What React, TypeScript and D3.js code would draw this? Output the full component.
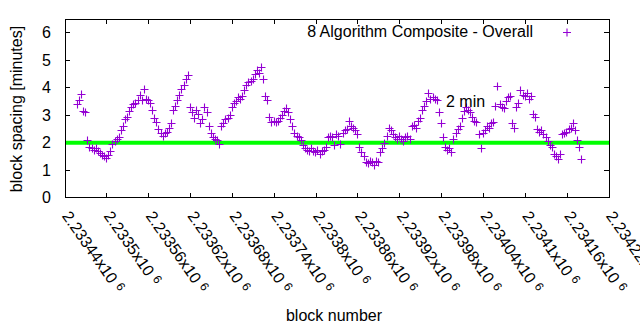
import React from "react";
import * as d3 from "d3";

// ---- data ----
const firstBlock = 2233457;
const blockStep = 3;
const spacing = [
  3.42, 3.55, 3.78, 3.15, 3.1, 2.08, 1.85, 1.8, 1.75, 1.8,
  1.7, 1.62, 1.55, 1.5, 1.45, 1.55, 1.7, 1.95, 2.05, 2.15,
  2.2, 2.45, 2.6, 2.85, 2.95, 3.15, 3.3, 3.4, 3.45, 3.55,
  3.75, 3.55, 3.95, 3.6, 3.55, 3.45, 3.2, 2.9, 2.75, 2.5,
  2.35, 2.25, 2.35, 2.4, 2.55, 2.7, 3.2, 3.35, 3.55, 3.75,
  3.95, 4.1, 4.3, 4.45, 3.3, 3.1, 2.9, 3.2, 3.05, 2.7,
  2.85, 3.3, 3.1, 2.6, 2.35, 2.2, 2.15, 2.1, 1.95, 2.6,
  2.7, 2.85, 2.9, 3.0, 3.3, 3.45, 3.5, 3.65, 3.6, 3.7,
  3.9, 4.1, 4.2, 4.25, 4.3, 4.5, 4.65, 4.55, 4.75, 4.3,
  3.7, 3.55, 2.95, 2.75, 2.8, 2.75, 2.8, 2.9, 3.0, 3.15,
  3.25, 3.1, 2.85, 2.6, 2.35, 2.25, 2.2, 2.1, 1.9, 1.8,
  1.75, 1.7, 1.8, 1.7, 1.65, 1.75, 1.6, 1.7, 1.75, 1.85,
  2.2, 2.25, 2.2, 1.9, 2.3, 2.25, 1.95, 2.35, 2.45, 2.5,
  2.8, 2.6, 2.55, 2.45, 2.3, 1.85, 1.65, 1.5, 1.3, 1.25,
  1.35, 1.3, 1.2, 1.35, 1.3, 1.65, 1.8, 2.0, 2.25, 2.55,
  2.45, 2.3, 2.2, 2.15, 2.25, 2.15, 2.05, 2.2, 2.25, 2.15,
  2.6, 2.65, 2.55, 2.8, 2.9, 3.2, 3.35, 3.5, 3.8, 3.6,
  3.65, 3.6, 3.55, 3.1, 2.7, 2.2, 1.85, 1.75, 1.8, 1.65,
  2.15, 2.35, 2.5, 2.6, 2.9, 3.15, 3.3, 3.2, 3.1, 2.95,
  2.8, 2.75, 2.3, 1.8, 2.35, 2.45, 2.6, 2.55, 2.7, 2.75,
  3.35, 4.05, 3.4, 3.3, 3.25, 3.5, 3.65, 3.7, 2.7, 2.55,
  3.3, 3.45, 3.9, 3.75, 3.7, 3.8, 3.6, 3.7, 3.05, 2.95,
  2.5, 2.4, 2.45, 2.3, 2.2, 2.05, 1.9, 1.85, 1.6, 1.5,
  1.4, 1.6, 2.3, 2.35, 2.4, 2.5, 2.55, 2.7, 2.45, 2.1,
  1.85, 1.4,
];
const blocks = spacing.map((_, i) => firstBlock + i * blockStep);

const xTickValues = [
  2233440, 2233500, 2233560, 2233620, 2233680, 2233740, 2233800,
  2233860, 2233920, 2233980, 2234040, 2234100, 2234160, 2234220,
];
const yTickValues = [0, 1, 2, 3, 4, 5, 6];
const targetMinutes = 2;

const seriesName = "8 Algorithm Composite - Overall";
const targetLabel = "2 min";
const xTitle = "block number";
const yTitle = "block spacing [minutes]";

// ---- layout ----
const W = 640;
const H = 330;
const L = 65;
const R = 609;
const T = 19;
const B = 197.6;
const FONT = "'Liberation Sans', Arial, sans-serif";
const PURPLE = "#9400d3";

export default function App() {
  const x = d3.scaleLinear().domain([2233440, 2234220]).range([L, R]);
  const y = d3.scaleLinear().domain([0, 6.5]).range([B, T]);
  const tk = 5;
  const ms = 4;

  const fmt = (v: number) => String(+(v / 1e6).toFixed(5));

  return (
    <svg
      width={W}
      height={H}
      style={{ position: "absolute", left: 0, top: 0, background: "#fff" }}
      fontFamily={FONT}
      fontSize={16}
    >
      <rect x={0} y={0} width={W} height={H} fill="#fff" />
      {/* ticks */}
      <g stroke="#000" strokeWidth={1} shapeRendering="crispEdges">
        {yTickValues.map((v) => (
          <g key={"yt" + v}>
            <line x1={L} x2={L + tk} y1={y(v)} y2={y(v)} />
            <line x1={R} x2={R - tk} y1={y(v)} y2={y(v)} />
          </g>
        ))}
        {xTickValues.map((v) => (
          <g key={"xt" + v}>
            <line x1={x(v)} x2={x(v)} y1={B} y2={B - tk} />
            <line x1={x(v)} x2={x(v)} y1={T} y2={T + tk} />
          </g>
        ))}
      </g>
      {/* y tick labels */}
      {yTickValues.map((v) => (
        <text
          key={"yl" + v}
          x={51}
          y={y(v)}
          dy="0.36em"
          textAnchor="end"
          fill="#000"
        >
          {v}
        </text>
      ))}
      {/* x tick labels */}
      {xTickValues.map((v) => {
        const px = x(v) - 3.5;
        const py = 216;
        return (
          <text
            key={"xl" + v}
            x={px}
            y={py}
            transform={`rotate(55 ${px} ${py})`}
            fill="#000"
          >
            {fmt(v) + "x10"}
            <tspan fontSize={12} dx={5} dy={-4}>
              6
            </tspan>
          </text>
        );
      })}
      {/* target line */}
      <line
        x1={L}
        x2={R}
        y1={y(targetMinutes)}
        y2={y(targetMinutes)}
        stroke="#00ff00"
        strokeWidth={4}
      />
      {/* points */}
      <g fill="none">
        {spacing.map((v, i) => {
          const cx = Math.round(x(blocks[i])) + 0.5;
          const cy = Math.round(y(v)) + 0.5;
          return (
            <path
              key={"p" + i}
              d={`M${cx - ms},${cy}H${cx + ms}M${cx},${cy - ms}V${cy + ms}`}
              stroke={PURPLE}
              strokeWidth={1.1}
            />
          );
        })}
      </g>
      {/* frame */}
      <rect
        x={L}
        y={T}
        width={R - L}
        height={B - T}
        fill="none"
        stroke="#000"
        strokeWidth={1}
        shapeRendering="crispEdges"
      />
      {/* legend */}
      <text x={533} y={37} textAnchor="end" fill="#000">
        {seriesName}
      </text>
      <path
        d="M563,32.5H571M567,28.5V36.5"
        stroke={PURPLE}
        strokeWidth={1.1}
        fill="none"
      />
      {/* 2 min label */}
      <text x={446} y={107} fill="#000">
        {targetLabel}
      </text>
      {/* axis titles */}
      <text x={334} y={321} textAnchor="middle" fill="#000">
        {xTitle}
      </text>
      <text
        x={22}
        y={109}
        transform={`rotate(-90 22 109)`}
        textAnchor="middle"
        fill="#000"
      >
        {yTitle}
      </text>
    </svg>
  );
}
